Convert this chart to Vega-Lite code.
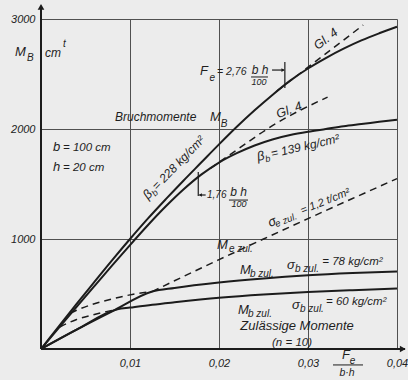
{
  "$schema": "https://vega.github.io/schema/vega-lite/v6.json",
  "width": 356,
  "height": 330,
  "autosize": {"type": "none"},
  "padding": {"left": 41, "top": 19, "right": 11, "bottom": 31},
  "background": "#ececec",
  "config": {
    "view": {"stroke": null},
    "text": {"font": "Liberation Sans", "fontStyle": "italic", "color": "#1e1e1e", "align": "left", "baseline": "middle"}
  },
  "datasets": {
    "solid": [
      {"s": "B228", "x": 0, "y": 0}, {"s": "B228", "x": 0.002, "y": 205}, {"s": "B228", "x": 0.004, "y": 410}, {"s": "B228", "x": 0.006, "y": 610}, {"s": "B228", "x": 0.008, "y": 808}, {"s": "B228", "x": 0.010, "y": 1000}, {"s": "B228", "x": 0.012, "y": 1185}, {"s": "B228", "x": 0.014, "y": 1360}, {"s": "B228", "x": 0.016, "y": 1530}, {"s": "B228", "x": 0.018, "y": 1695}, {"s": "B228", "x": 0.020, "y": 1860}, {"s": "B228", "x": 0.022, "y": 2020}, {"s": "B228", "x": 0.024, "y": 2170}, {"s": "B228", "x": 0.026, "y": 2310}, {"s": "B228", "x": 0.028, "y": 2440}, {"s": "B228", "x": 0.030, "y": 2550}, {"s": "B228", "x": 0.032, "y": 2645}, {"s": "B228", "x": 0.034, "y": 2730}, {"s": "B228", "x": 0.036, "y": 2805}, {"s": "B228", "x": 0.038, "y": 2870}, {"s": "B228", "x": 0.040, "y": 2930},
      {"s": "B139", "x": 0, "y": 0}, {"s": "B139", "x": 0.002, "y": 192}, {"s": "B139", "x": 0.004, "y": 383}, {"s": "B139", "x": 0.006, "y": 572}, {"s": "B139", "x": 0.008, "y": 760}, {"s": "B139", "x": 0.010, "y": 945}, {"s": "B139", "x": 0.012, "y": 1125}, {"s": "B139", "x": 0.014, "y": 1295}, {"s": "B139", "x": 0.016, "y": 1450}, {"s": "B139", "x": 0.018, "y": 1585}, {"s": "B139", "x": 0.020, "y": 1695}, {"s": "B139", "x": 0.022, "y": 1780}, {"s": "B139", "x": 0.024, "y": 1850}, {"s": "B139", "x": 0.026, "y": 1905}, {"s": "B139", "x": 0.028, "y": 1945}, {"s": "B139", "x": 0.030, "y": 1975}, {"s": "B139", "x": 0.032, "y": 2000}, {"s": "B139", "x": 0.034, "y": 2025}, {"s": "B139", "x": 0.036, "y": 2045}, {"s": "B139", "x": 0.038, "y": 2065}, {"s": "B139", "x": 0.040, "y": 2085},
      {"s": "Z78", "x": 0, "y": 0}, {"s": "Z78", "x": 0.004, "y": 176}, {"s": "Z78", "x": 0.008, "y": 342}, {"s": "Z78", "x": 0.0125, "y": 522}, {"s": "Z78", "x": 0.015, "y": 555}, {"s": "Z78", "x": 0.020, "y": 605}, {"s": "Z78", "x": 0.025, "y": 642}, {"s": "Z78", "x": 0.030, "y": 670}, {"s": "Z78", "x": 0.035, "y": 690}, {"s": "Z78", "x": 0.040, "y": 705},
      {"s": "Z60", "x": 0, "y": 0}, {"s": "Z60", "x": 0.004, "y": 176}, {"s": "Z60", "x": 0.0086, "y": 362}, {"s": "Z60", "x": 0.010, "y": 377}, {"s": "Z60", "x": 0.0125, "y": 403}, {"s": "Z60", "x": 0.015, "y": 425}, {"s": "Z60", "x": 0.020, "y": 465}, {"s": "Z60", "x": 0.025, "y": 495}, {"s": "Z60", "x": 0.030, "y": 518}, {"s": "Z60", "x": 0.035, "y": 535}, {"s": "Z60", "x": 0.040, "y": 550}
    ],
    "dashed": [
      {"s": "Gl4a", "x": 0.0265, "y": 2345}, {"s": "Gl4a", "x": 0.0362, "y": 2945},
      {"s": "Gl4b", "x": 0.019, "y": 1640}, {"s": "Gl4b", "x": 0.022, "y": 1810}, {"s": "Gl4b", "x": 0.026, "y": 2030}, {"s": "Gl4b", "x": 0.0322, "y": 2290},
      {"s": "Me", "x": 0.0125, "y": 522}, {"s": "Me", "x": 0.015, "y": 620}, {"s": "Me", "x": 0.020, "y": 812}, {"s": "Me", "x": 0.025, "y": 1000}, {"s": "Me", "x": 0.030, "y": 1185}, {"s": "Me", "x": 0.035, "y": 1368}, {"s": "Me", "x": 0.040, "y": 1549},
      {"s": "Mb78", "x": 0.0033, "y": 326}, {"s": "Mb78", "x": 0.004, "y": 352}, {"s": "Mb78", "x": 0.006, "y": 411}, {"s": "Mb78", "x": 0.008, "y": 455}, {"s": "Mb78", "x": 0.010, "y": 492}, {"s": "Mb78", "x": 0.0125, "y": 522},
      {"s": "Mb60", "x": 0.0021, "y": 200}, {"s": "Mb60", "x": 0.003, "y": 235}, {"s": "Mb60", "x": 0.004, "y": 268}, {"s": "Mb60", "x": 0.006, "y": 314}, {"s": "Mb60", "x": 0.0086, "y": 362}
    ]
  },
  "layer": [
    {
      "data": {"name": "solid"},
      "mark": {"type": "line", "strokeWidth": 2, "color": "#1c1c1c", "interpolate": "monotone"},
      "encoding": {
        "x": {"field": "x", "type": "quantitative", "scale": {"domain": [0, 0.04], "nice": false, "zero": true},
          "axis": {"values": [0.01, 0.02, 0.03, 0.04], "labelExpr": "replace(format(datum.value,'.2f'),'.',',')", "title": null, "domain": false, "ticks": false, "grid": true, "gridColor": "#505050", "gridWidth": 1, "gridOpacity": 1, "labelFont": "Liberation Sans", "labelFontStyle": "italic", "labelFontSize": 11, "labelColor": "#222", "labelPadding": 8, "labelFlush": false}},
        "y": {"field": "y", "type": "quantitative", "scale": {"domain": [0, 3000], "nice": false, "zero": true},
          "axis": {"values": [1000, 2000, 3000], "format": "d", "title": null, "domain": false, "ticks": false, "grid": true, "gridColor": "#505050", "gridWidth": 1, "gridOpacity": 1, "labelFont": "Liberation Sans", "labelFontStyle": "italic", "labelFontSize": 11, "labelColor": "#222", "labelPadding": 6, "labelFlush": false}},
        "detail": {"field": "s"}
      }
    },
    {
      "data": {"name": "dashed"},
      "mark": {"type": "line", "strokeWidth": 1.5, "strokeDash": [7, 5], "color": "#1c1c1c", "interpolate": "monotone"},
      "encoding": {"x": {"field": "x", "type": "quantitative"}, "y": {"field": "y", "type": "quantitative"}, "detail": {"field": "s"}}
    },
    {
      "data": {"values": [{"x": 0, "y": 0, "x2": 0, "y2": 3120}, {"x": 0, "y": 0, "x2": 0.0409, "y2": 0}]},
      "mark": {"type": "rule", "strokeWidth": 2, "color": "#1c1c1c"},
      "encoding": {"x": {"field": "x", "type": "quantitative"}, "y": {"field": "y", "type": "quantitative"}, "x2": {"field": "x2"}, "y2": {"field": "y2"}}
    },
    {
      "data": {"values": [{"x": 0.0274, "y": 2373, "x2": 0.0274, "y2": 2609}, {"x": 0.02596, "y": 2536, "x2": 0.0273, "y2": 2536}, {"x": 0.01767, "y": 1390, "x2": 0.01767, "y2": 1609}, {"x": 0.0178, "y": 1400, "x2": 0.0185, "y2": 1400}]},
      "mark": {"type": "rule", "strokeWidth": 1.2, "color": "#1c1c1c"},
      "encoding": {"x": {"field": "x", "type": "quantitative"}, "y": {"field": "y", "type": "quantitative"}, "x2": {"field": "x2"}, "y2": {"field": "y2"}}
    },
    {
      "data": {"values": [{"x": 0.0236, "y": 2473, "x2": 0.0255, "y2": 2473}, {"x": 0.02112, "y": 1354, "x2": 0.02326, "y2": 1354}, {"x": 0.03281, "y": -145, "x2": 0.03618, "y2": -145}]},
      "mark": {"type": "rule", "strokeWidth": 1, "color": "#1c1c1c"},
      "encoding": {"x": {"field": "x", "type": "quantitative"}, "y": {"field": "y", "type": "quantitative"}, "x2": {"field": "x2"}, "y2": {"field": "y2"}}
    },
    {
      "data": {"values": [{"x": 0, "y": 3110}]},
      "mark": {"type": "point", "shape": "triangle-up", "size": 45, "filled": true, "color": "#1c1c1c", "opacity": 1},
      "encoding": {"x": {"field": "x", "type": "quantitative"}, "y": {"field": "y", "type": "quantitative"}}
    },
    {
      "data": {"values": [{"x": 0.04065, "y": 0}]},
      "mark": {"type": "point", "shape": "triangle-right", "size": 45, "filled": true, "color": "#1c1c1c", "opacity": 1},
      "encoding": {"x": {"field": "x", "type": "quantitative"}, "y": {"field": "y", "type": "quantitative"}}
    },
    {
      "data": {"values": [{"x": 0.0272, "y": 2536}]},
      "mark": {"type": "point", "shape": "triangle-right", "size": 14, "filled": true, "color": "#1c1c1c", "opacity": 1},
      "encoding": {"x": {"field": "x", "type": "quantitative"}, "y": {"field": "y", "type": "quantitative"}}
    },
    {
      "data": {"values": [{"x": 0.0179, "y": 1400}]},
      "mark": {"type": "point", "shape": "triangle-left", "size": 14, "filled": true, "color": "#1c1c1c", "opacity": 1},
      "encoding": {"x": {"field": "x", "type": "quantitative"}, "y": {"field": "y", "type": "quantitative"}}
    },
    {
      "data": {"values": [
        {"x": -0.00292, "y": 2700, "t": "M"},
        {"x": 0.0190, "y": 2109, "t": "M"},
        {"x": 0.0224, "y": 209, "t": "Zulässige  Momente"},
        {"x": 0.01978, "y": 945, "t": "M"},
        {"x": 0.02236, "y": 718, "t": "M"},
        {"x": 0.02214, "y": 355, "t": "M"},
        {"x": 0.02764, "y": 764, "t": "σ"},
        {"x": 0.0282, "y": 400, "t": "σ"},
        {"x": 0.01787, "y": 2527, "t": "F"},
        {"x": 0.03382, "y": -55, "t": "F"},
        {"x": 0.00135, "y": 1836, "t": "b"},
        {"x": 0.00135, "y": 1655, "t": "h"}
      ]},
      "mark": {"type": "text", "fontSize": 13},
      "encoding": {"x": {"field": "x", "type": "quantitative"}, "y": {"field": "y", "type": "quantitative"}, "text": {"field": "t"}}
    },
    {
      "data": {"values": [
        {"x": 0.00831, "y": 2109, "t": "Bruchmomente"},
        {"x": 0.00045, "y": 2690, "t": "cm"}
      ]},
      "mark": {"type": "text", "fontSize": 12},
      "encoding": {"x": {"field": "x", "type": "quantitative"}, "y": {"field": "y", "type": "quantitative"}, "text": {"field": "t"}}
    },
    {
      "data": {"values": [
        {"x": -0.00157, "y": 2645, "t": "B"},
        {"x": 0.0202, "y": 2045, "t": "B"},
        {"x": 0.02112, "y": 909, "t": "e zul."},
        {"x": 0.02348, "y": 682, "t": "b zul."},
        {"x": 0.02854, "y": 727, "t": "b zul."},
        {"x": 0.02326, "y": 318, "t": "b zul."},
        {"x": 0.0291, "y": 364, "t": "b zul."},
        {"x": 0.01893, "y": 2464, "t": "e"},
        {"x": 0.0347, "y": -105, "t": "e"},
        {"x": 0.00247, "y": 2773, "t": "t"}
      ]},
      "mark": {"type": "text", "fontSize": 10},
      "encoding": {"x": {"field": "x", "type": "quantitative"}, "y": {"field": "y", "type": "quantitative"}, "text": {"field": "t"}}
    },
    {
      "data": {"values": [
        {"x": 0.00247, "y": 1823, "t": "= 100 cm"},
        {"x": 0.00247, "y": 1645, "t": "= 20 cm"},
        {"x": 0.0316, "y": 791, "t": "= 78 kg/cm²"},
        {"x": 0.03202, "y": 427, "t": "= 60 kg/cm²"},
        {"x": 0.02596, "y": 55, "t": "(n = 10)"}
      ]},
      "mark": {"type": "text", "fontSize": 11.5},
      "encoding": {"x": {"field": "x", "type": "quantitative"}, "y": {"field": "y", "type": "quantitative"}, "text": {"field": "t"}}
    },
    {
      "data": {"values": [{"x": 0.01978, "y": 2518, "t": "= 2,76"}]},
      "mark": {"type": "text", "fontSize": 10.5},
      "encoding": {"x": {"field": "x", "type": "quantitative"}, "y": {"field": "y", "type": "quantitative"}, "text": {"field": "t"}}
    },
    {
      "data": {"values": [{"x": 0.01865, "y": 1400, "t": "1,76"}]},
      "mark": {"type": "text", "fontSize": 10},
      "encoding": {"x": {"field": "x", "type": "quantitative"}, "y": {"field": "y", "type": "quantitative"}, "text": {"field": "t"}}
    },
    {
      "data": {"values": [
        {"x": 0.02461, "y": 2536, "t": "b h"},
        {"x": 0.02219, "y": 1423, "t": "b h"}
      ]},
      "mark": {"type": "text", "fontSize": 12, "align": "center"},
      "encoding": {"x": {"field": "x", "type": "quantitative"}, "y": {"field": "y", "type": "quantitative"}, "text": {"field": "t"}}
    },
    {
      "data": {"values": [{"x": 0.03438, "y": -218, "t": "b·h"}]},
      "mark": {"type": "text", "fontSize": 10.5, "align": "center"},
      "encoding": {"x": {"field": "x", "type": "quantitative"}, "y": {"field": "y", "type": "quantitative"}, "text": {"field": "t"}}
    },
    {
      "data": {"values": [
        {"x": 0.02449, "y": 2427, "t": "100"},
        {"x": 0.02225, "y": 1318, "t": "100"}
      ]},
      "mark": {"type": "text", "fontSize": 9, "align": "center"},
      "encoding": {"x": {"field": "x", "type": "quantitative"}, "y": {"field": "y", "type": "quantitative"}, "text": {"field": "t"}}
    },
    {
      "data": {"values": [{"x": 0.01202, "y": 1354, "t": "β"}]},
      "mark": {"type": "text", "fontSize": 13, "angle": 314, "baseline": "alphabetic"},
      "encoding": {"x": {"field": "x", "type": "quantitative"}, "y": {"field": "y", "type": "quantitative"}, "text": {"field": "t"}}
    },
    {
      "data": {"values": [{"x": 0.01285, "y": 1384, "t": "b"}]},
      "mark": {"type": "text", "fontSize": 9, "angle": 314, "baseline": "alphabetic"},
      "encoding": {"x": {"field": "x", "type": "quantitative"}, "y": {"field": "y", "type": "quantitative"}, "text": {"field": "t"}}
    },
    {
      "data": {"values": [{"x": 0.01303, "y": 1439, "t": "= 228 kg/cm²"}]},
      "mark": {"type": "text", "fontSize": 12, "angle": 314, "baseline": "alphabetic"},
      "encoding": {"x": {"field": "x", "type": "quantitative"}, "y": {"field": "y", "type": "quantitative"}, "text": {"field": "t"}}
    },
    {
      "data": {"values": [{"x": 0.02438, "y": 1709, "t": "β"}]},
      "mark": {"type": "text", "fontSize": 13, "angle": 347, "baseline": "alphabetic"},
      "encoding": {"x": {"field": "x", "type": "quantitative"}, "y": {"field": "y", "type": "quantitative"}, "text": {"field": "t"}}
    },
    {
      "data": {"values": [{"x": 0.02528, "y": 1698, "t": "b"}]},
      "mark": {"type": "text", "fontSize": 9, "angle": 347, "baseline": "alphabetic"},
      "encoding": {"x": {"field": "x", "type": "quantitative"}, "y": {"field": "y", "type": "quantitative"}, "text": {"field": "t"}}
    },
    {
      "data": {"values": [{"x": 0.02595, "y": 1738, "t": "= 139 kg/cm²"}]},
      "mark": {"type": "text", "fontSize": 12, "angle": 347, "baseline": "alphabetic"},
      "encoding": {"x": {"field": "x", "type": "quantitative"}, "y": {"field": "y", "type": "quantitative"}, "text": {"field": "t"}}
    },
    {
      "data": {"values": [{"x": 0.02573, "y": 1109, "t": "σ"}]},
      "mark": {"type": "text", "fontSize": 13, "angle": 338, "baseline": "alphabetic"},
      "encoding": {"x": {"field": "x", "type": "quantitative"}, "y": {"field": "y", "type": "quantitative"}, "text": {"field": "t"}}
    },
    {
      "data": {"values": [{"x": 0.02647, "y": 1107, "t": "e zul."}]},
      "mark": {"type": "text", "fontSize": 9.5, "angle": 338, "baseline": "alphabetic"},
      "encoding": {"x": {"field": "x", "type": "quantitative"}, "y": {"field": "y", "type": "quantitative"}, "text": {"field": "t"}}
    },
    {
      "data": {"values": [{"x": 0.02935, "y": 1226, "t": "= 1,2 t/cm²"}]},
      "mark": {"type": "text", "fontSize": 11, "angle": 338, "baseline": "alphabetic"},
      "encoding": {"x": {"field": "x", "type": "quantitative"}, "y": {"field": "y", "type": "quantitative"}, "text": {"field": "t"}}
    },
    {
      "data": {"values": [{"x": 0.0320, "y": 2818, "t": "Gl. 4"}]},
      "mark": {"type": "text", "fontSize": 12.5, "angle": 322, "align": "center"},
      "encoding": {"x": {"field": "x", "type": "quantitative"}, "y": {"field": "y", "type": "quantitative"}, "text": {"field": "t"}}
    },
    {
      "data": {"values": [{"x": 0.02787, "y": 2173, "t": "Gl. 4"}]},
      "mark": {"type": "text", "fontSize": 12.5, "angle": 340, "align": "center"},
      "encoding": {"x": {"field": "x", "type": "quantitative"}, "y": {"field": "y", "type": "quantitative"}, "text": {"field": "t"}}
    }
  ]
}
